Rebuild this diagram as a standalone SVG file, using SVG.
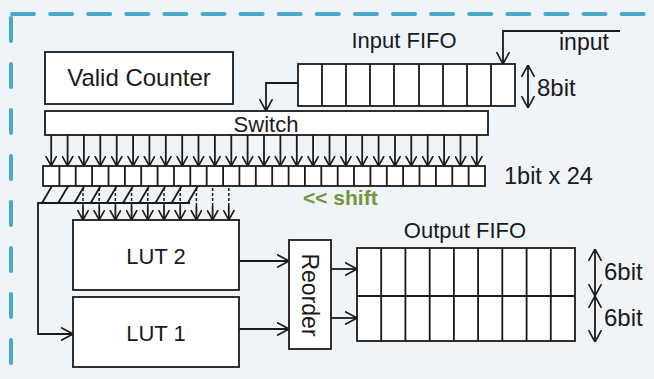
<svg xmlns="http://www.w3.org/2000/svg" width="654" height="379" viewBox="0 0 654 379">
<defs>
<style>
.ln{fill:none;stroke:#1a1a1a;stroke-width:1.8}
.bx{fill:#ffffff;stroke:#1a1a1a;stroke-width:1.8}
.t{font-family:"Liberation Sans",Arial,sans-serif;font-size:22px;fill:#1a1a1a}
.tc{text-anchor:middle}
.dash{fill:none;stroke:#1a1a1a;stroke-width:1.5;stroke-dasharray:3 2}
.brd{fill:none;stroke:#4aa8c8;stroke-width:4;stroke-linecap:round}
</style>
<marker id="ah" viewBox="0 0 10 12" refX="10" refY="6" markerWidth="10" markerHeight="12" markerUnits="userSpaceOnUse" orient="auto-start-reverse">
<path d="M0,0.5 L10,6 L0,11.5" fill="none" stroke="#1a1a1a" stroke-width="1.6"/>
</marker>
<marker id="ahl" viewBox="0 0 12 14" refX="12" refY="7" markerWidth="12" markerHeight="14" markerUnits="userSpaceOnUse" orient="auto-start-reverse">
<path d="M0,0.5 L12,7 L0,13.5" fill="none" stroke="#1a1a1a" stroke-width="1.6"/>
</marker>
</defs>
<rect x="0" y="0" width="654" height="379" fill="#eef4f8"/>
<g id="border">
<line class="brd" x1="12" y1="14" x2="654" y2="14" stroke-dasharray="22 16.1"/>
<line class="brd" x1="11" y1="18" x2="11" y2="372" stroke-dasharray="23 23"/>
</g>

<g id="valid-counter">
<rect class="bx" x="45" y="52" width="188" height="52"/>
<text class="t tc" x="139" y="86" style="font-size:24px">Valid Counter</text>
</g>

<g id="input-fifo">
<text class="t tc" x="404" y="48">Input FIFO</text>
<rect class="bx" x="298" y="64" width="217" height="42"/>
<path class="ln" d="M322,64V106M346,64V106M370,64V106M394,64V106M419,64V106M443,64V106M467,64V106M491,64V106"/>
</g>

<g id="switch">
<rect class="bx" x="45" y="111" width="443" height="24"/>
<text class="t tc" x="266" y="132">Switch</text>
</g>

<g id="shift-register">
<rect class="bx" x="43" y="166" width="442" height="20"/>
<path class="ln" d="M59.4,166V186M75.7,166V186M92.1,166V186M108.5,166V186M124.9,166V186M141.2,166V186M157.6,166V186M174,166V186M190.3,166V186M206.7,166V186M223.1,166V186M239.4,166V186M255.8,166V186M272.2,166V186M288.6,166V186M304.9,166V186M321.3,166V186M337.7,166V186M354,166V186M370.4,166V186M386.8,166V186M403.1,166V186M419.5,166V186M435.9,166V186M452.3,166V186M468.6,166V186"/>
<text class="t" x="504" y="184" style="font-size:23.5px">1bit x 24</text>
<text class="t" x="303" y="205" style="font-weight:bold;fill:#77933c;font-size:21px">&lt;&lt; shift</text>
</g>

<g id="lut2">
<rect class="bx" x="73" y="220" width="166" height="70"/>
<text class="t tc" x="156" y="264">LUT 2</text>
</g>

<g id="lut1">
<rect class="bx" x="73" y="297" width="166" height="70"/>
<text class="t tc" x="156" y="341">LUT 1</text>
</g>

<g id="reorder">
<rect class="bx" x="289" y="240" width="42" height="109"/>
<text class="t tc" transform="translate(302,295) rotate(90)" x="0" y="0" style="font-size:23px">Reorder</text>
</g>

<g id="output-fifo">
<text class="t tc" x="465" y="238">Output FIFO</text>
<rect class="bx" x="357" y="248" width="218" height="93"/>
<path class="ln" d="M357,296H575M381.2,248V341M405.4,248V341M429.7,248V341M453.9,248V341M478.1,248V341M502.3,248V341M526.6,248V341M550.8,248V341"/>
<text class="t" x="604" y="280" style="font-size:24px">6bit</text>
<text class="t" x="604" y="326" style="font-size:24px">6bit</text>
</g>

<g id="labels-in">
<text class="t" x="559" y="50" style="font-size:23px">input</text>
<text class="t" x="537" y="96" style="font-size:24px">8bit</text>
</g>

<g id="connectors">
<path class="ln" d="M620,31H503V64" marker-end="url(#ahl)"/>
<path class="ln" d="M298,83H266V111" marker-end="url(#ahl)"/>
<line class="ln" x1="528" y1="65" x2="528" y2="108" marker-start="url(#ahl)" marker-end="url(#ahl)"/>
<line class="ln" x1="595" y1="249" x2="595" y2="296" marker-start="url(#ahl)" marker-end="url(#ahl)"/>
<line class="ln" x1="595" y1="296" x2="595" y2="342" marker-start="url(#ahl)" marker-end="url(#ahl)"/>
<g id="switch-to-register">
<line class="ln" x1="51.2" y1="135" x2="51.2" y2="166" marker-end="url(#ah)"/>
<line class="ln" x1="67.6" y1="135" x2="67.6" y2="166" marker-end="url(#ah)"/>
<line class="ln" x1="83.9" y1="135" x2="83.9" y2="166" marker-end="url(#ah)"/>
<line class="ln" x1="100.3" y1="135" x2="100.3" y2="166" marker-end="url(#ah)"/>
<line class="ln" x1="116.7" y1="135" x2="116.7" y2="166" marker-end="url(#ah)"/>
<line class="ln" x1="133.1" y1="135" x2="133.1" y2="166" marker-end="url(#ah)"/>
<line class="ln" x1="149.4" y1="135" x2="149.4" y2="166" marker-end="url(#ah)"/>
<line class="ln" x1="165.8" y1="135" x2="165.8" y2="166" marker-end="url(#ah)"/>
<line class="ln" x1="182.2" y1="135" x2="182.2" y2="166" marker-end="url(#ah)"/>
<line class="ln" x1="198.5" y1="135" x2="198.5" y2="166" marker-end="url(#ah)"/>
<line class="ln" x1="214.9" y1="135" x2="214.9" y2="166" marker-end="url(#ah)"/>
<line class="ln" x1="231.3" y1="135" x2="231.3" y2="166" marker-end="url(#ah)"/>
<line class="ln" x1="247.6" y1="135" x2="247.6" y2="166" marker-end="url(#ah)"/>
<line class="ln" x1="264" y1="135" x2="264" y2="166" marker-end="url(#ah)"/>
<line class="ln" x1="280.4" y1="135" x2="280.4" y2="166" marker-end="url(#ah)"/>
<line class="ln" x1="296.8" y1="135" x2="296.8" y2="166" marker-end="url(#ah)"/>
<line class="ln" x1="313.1" y1="135" x2="313.1" y2="166" marker-end="url(#ah)"/>
<line class="ln" x1="329.5" y1="135" x2="329.5" y2="166" marker-end="url(#ah)"/>
<line class="ln" x1="345.9" y1="135" x2="345.9" y2="166" marker-end="url(#ah)"/>
<line class="ln" x1="362.2" y1="135" x2="362.2" y2="166" marker-end="url(#ah)"/>
<line class="ln" x1="378.6" y1="135" x2="378.6" y2="166" marker-end="url(#ah)"/>
<line class="ln" x1="395" y1="135" x2="395" y2="166" marker-end="url(#ah)"/>
<line class="ln" x1="411.3" y1="135" x2="411.3" y2="166" marker-end="url(#ah)"/>
<line class="ln" x1="427.7" y1="135" x2="427.7" y2="166" marker-end="url(#ah)"/>
<line class="ln" x1="444.1" y1="135" x2="444.1" y2="166" marker-end="url(#ah)"/>
<line class="ln" x1="460.5" y1="135" x2="460.5" y2="166" marker-end="url(#ah)"/>
<line class="ln" x1="476.8" y1="135" x2="476.8" y2="166" marker-end="url(#ah)"/>
</g>
<g id="register-to-luts">
<path class="ln" d="M190,203H38V334H73" marker-end="url(#ahl)"/>
<path class="ln" d="M52,186L42,203M68.2,186L58.2,203M84.4,186L74.4,203M100.6,186L90.6,203M116.8,186L106.8,203M133,186L123,203M149.2,186L139.2,203M165.4,186L155.4,203M181.6,186L171.6,203M197.8,186L187.8,203"/>
<path class="dash" d="M83,188V207M99.2,188V207M115.4,188V207M131.6,188V207M147.8,188V207M164,188V207M180.2,188V207M196.4,188V207M212.6,188V207M228.8,188V207"/>
<line class="ln" x1="83" y1="206" x2="83" y2="220" marker-end="url(#ah)"/>
<line class="ln" x1="99.2" y1="206" x2="99.2" y2="220" marker-end="url(#ah)"/>
<line class="ln" x1="115.4" y1="206" x2="115.4" y2="220" marker-end="url(#ah)"/>
<line class="ln" x1="131.6" y1="206" x2="131.6" y2="220" marker-end="url(#ah)"/>
<line class="ln" x1="147.8" y1="206" x2="147.8" y2="220" marker-end="url(#ah)"/>
<line class="ln" x1="164" y1="206" x2="164" y2="220" marker-end="url(#ah)"/>
<line class="ln" x1="180.2" y1="206" x2="180.2" y2="220" marker-end="url(#ah)"/>
<line class="ln" x1="196.4" y1="206" x2="196.4" y2="220" marker-end="url(#ah)"/>
<line class="ln" x1="212.6" y1="206" x2="212.6" y2="220" marker-end="url(#ah)"/>
<line class="ln" x1="228.8" y1="206" x2="228.8" y2="220" marker-end="url(#ah)"/>
</g>
<line class="ln" x1="239" y1="261" x2="289" y2="261" marker-end="url(#ahl)"/>
<line class="ln" x1="239" y1="329" x2="289" y2="329" marker-end="url(#ahl)"/>
<line class="ln" x1="331" y1="269" x2="357" y2="269" marker-end="url(#ahl)"/>
<line class="ln" x1="331" y1="318" x2="357" y2="318" marker-end="url(#ahl)"/>
</g>
</svg>
